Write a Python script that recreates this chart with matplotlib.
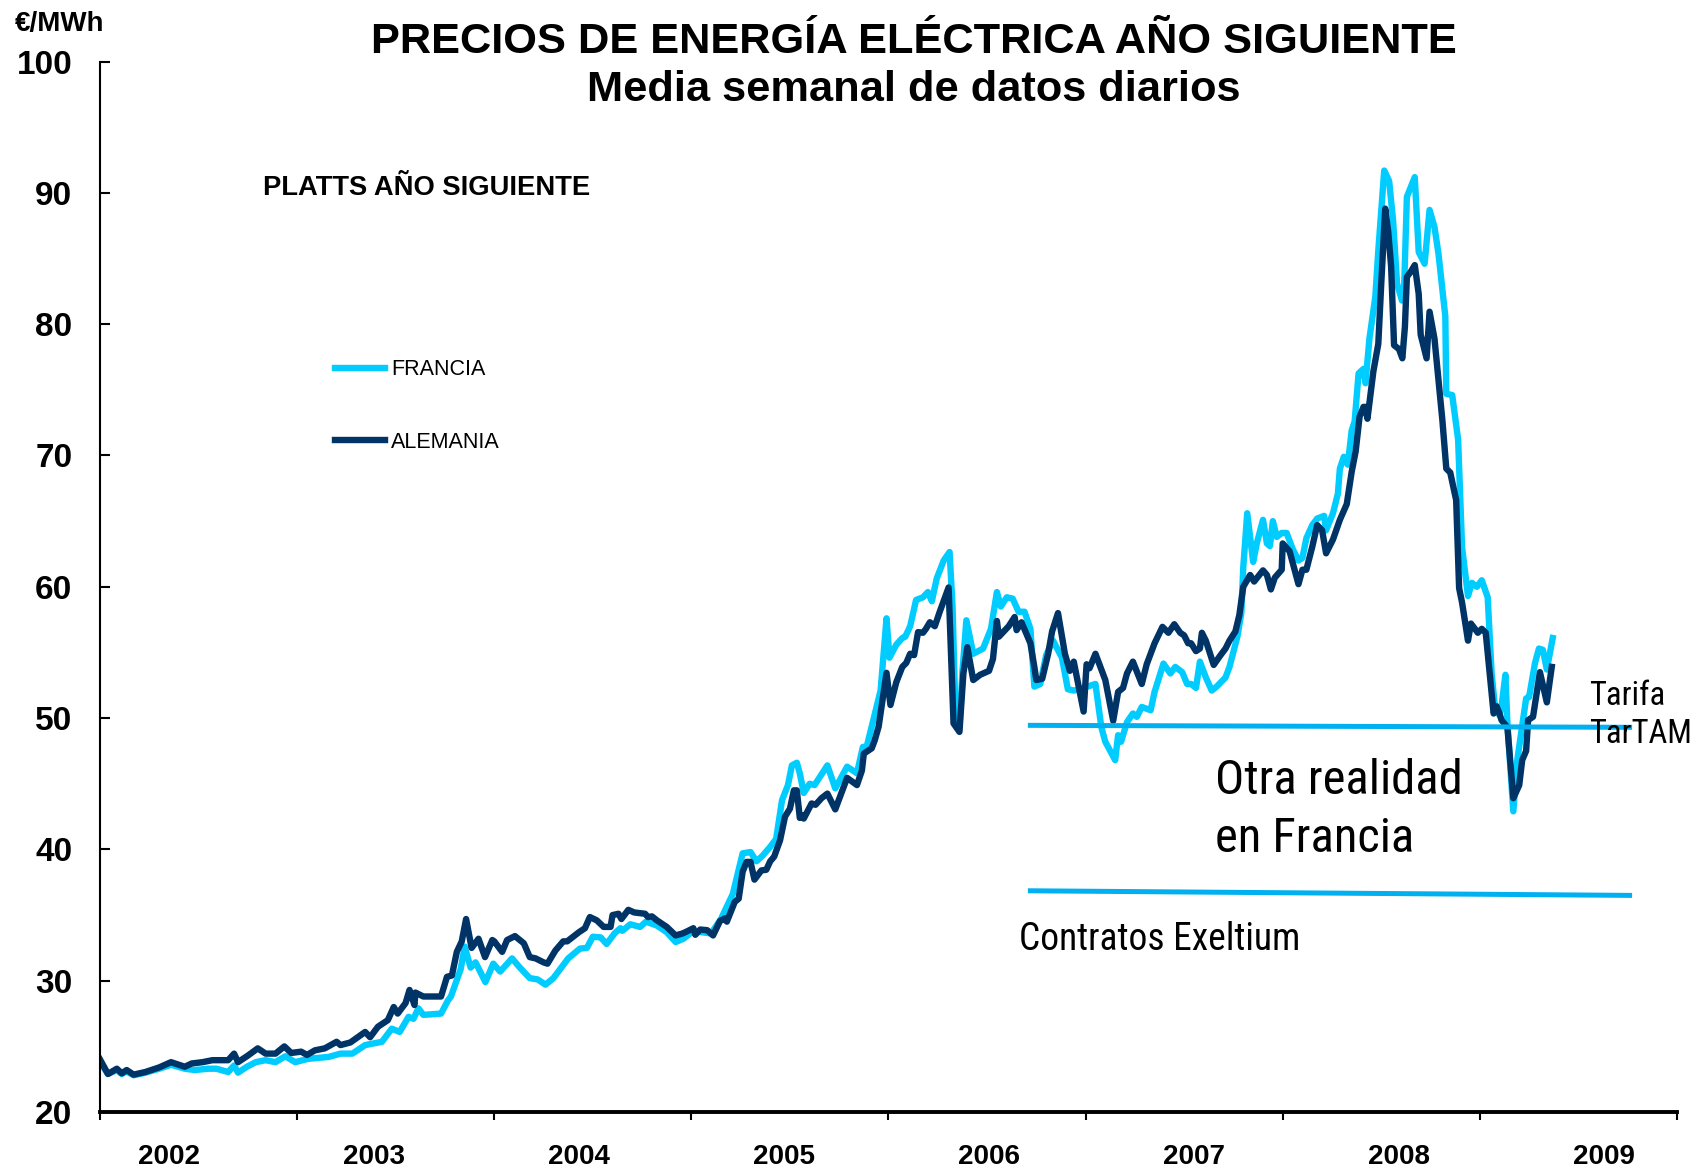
import matplotlib
matplotlib.use('Agg')
import matplotlib.pyplot as plt
from matplotlib import font_manager

# weekly-ish readings, decimal year -> EUR/MWh
de_t = [2002.00, 2002.04, 2002.085, 2002.11, 2002.135, 2002.17, 2002.23, 2002.30, 2002.36, 2002.43,
        2002.465, 2002.52, 2002.57, 2002.65, 2002.68, 2002.70, 2002.75, 2002.80, 2002.84, 2002.89,
        2002.935, 2002.97, 2003.02, 2003.05, 2003.09, 2003.14, 2003.20, 2003.22, 2003.27, 2003.345,
        2003.37, 2003.41, 2003.46, 2003.49, 2003.51, 2003.55, 2003.57, 2003.595, 2003.60, 2003.64,
        2003.73, 2003.76, 2003.785, 2003.81, 2003.835, 2003.857, 2003.885, 2003.92, 2003.953, 2003.99,
        2004.00, 2004.04, 2004.065, 2004.105, 2004.15, 2004.18, 2004.21, 2004.25, 2004.27, 2004.31,
        2004.35, 2004.37, 2004.43, 2004.46, 2004.485, 2004.52, 2004.555, 2004.59, 2004.60, 2004.63,
        2004.645, 2004.68, 2004.71, 2004.765, 2004.78, 2004.80, 2004.825, 2004.875, 2004.92, 2004.955,
        2004.97, 2005.01, 2005.02, 2005.045, 2005.08, 2005.11, 2005.145, 2005.17, 2005.18, 2005.22,
        2005.24, 2005.26, 2005.28, 2005.30, 2005.32, 2005.355, 2005.38, 2005.40, 2005.42, 2005.45,
        2005.475, 2005.50, 2005.52, 2005.535, 2005.55, 2005.56, 2005.57, 2005.61, 2005.63, 2005.66,
        2005.69, 2005.73, 2005.79, 2005.84, 2005.865, 2005.875, 2005.915, 2005.93, 2005.95, 2005.975,
        2005.99, 2006.01, 2006.04, 2006.07, 2006.09, 2006.11, 2006.13, 2006.15, 2006.175, 2006.19,
        2006.21, 2006.235, 2006.26, 2006.305, 2006.33, 2006.36, 2006.38, 2006.40, 2006.43, 2006.465,
        2006.51, 2006.53, 2006.55, 2006.56, 2006.61, 2006.64, 2006.65, 2006.675, 2006.72, 2006.74,
        2006.75, 2006.78, 2006.81, 2006.83, 2006.86, 2006.895, 2006.92, 2006.94, 2006.99, 2007.005,
        2007.02, 2007.05, 2007.10, 2007.14, 2007.165, 2007.19, 2007.21, 2007.24, 2007.285, 2007.31,
        2007.35, 2007.39, 2007.42, 2007.45, 2007.48, 2007.50, 2007.52, 2007.535, 2007.56, 2007.58,
        2007.59, 2007.61, 2007.65, 2007.68, 2007.71, 2007.73, 2007.76, 2007.78, 2007.80, 2007.835,
        2007.855, 2007.90, 2007.92, 2007.94, 2007.96, 2007.995, 2008.00, 2008.035, 2008.08, 2008.10,
        2008.12, 2008.15, 2008.175, 2008.20, 2008.22, 2008.255, 2008.29, 2008.325, 2008.35, 2008.37,
        2008.39, 2008.41, 2008.42, 2008.43, 2008.46, 2008.485, 2008.50, 2008.52, 2008.535, 2008.55,
        2008.565, 2008.59, 2008.607, 2008.62, 2008.63, 2008.65, 2008.67, 2008.69, 2008.70, 2008.73,
        2008.745, 2008.77, 2008.81, 2008.83, 2008.85, 2008.88, 2008.895, 2008.91, 2008.94, 2008.955,
        2008.99, 2009.01, 2009.03, 2009.05, 2009.07, 2009.085, 2009.10, 2009.11, 2009.14, 2009.17,
        2009.20, 2009.215, 2009.235, 2009.245, 2009.27, 2009.305, 2009.34, 2009.365]
de_v = [24.0, 22.9, 23.3, 22.95, 23.2, 22.85, 23.05, 23.4, 23.8, 23.45,
        23.7, 23.8, 23.95, 23.95, 24.45, 23.8, 24.3, 24.85, 24.45, 24.45,
        25.0, 24.5, 24.6, 24.35, 24.7, 24.85, 25.35, 25.1, 25.3, 26.1,
        25.7, 26.5, 27.0, 28.0, 27.5, 28.3, 29.3, 28.15, 29.1, 28.8,
        28.8, 30.3, 30.4, 32.2, 33.0, 34.7, 32.5, 33.2, 31.8, 33.1,
        33.0, 32.2, 33.1, 33.4, 32.85, 31.8, 31.7, 31.4, 31.3, 32.3,
        33.0, 33.0, 33.7, 34.0, 34.85, 34.6, 34.1, 34.1, 35.0, 35.1,
        34.7, 35.4, 35.2, 35.1, 34.85, 34.9, 34.6, 34.1, 33.45, 33.6,
        33.7, 34.0, 33.5, 33.9, 33.85, 33.45, 34.55, 34.75, 34.5, 36.0,
        36.25, 38.3, 39.05, 39.05, 37.7, 38.4, 38.45, 39.1, 39.45, 40.7,
        42.5, 43.1, 44.5, 44.5, 42.4, 42.6, 42.35, 43.5, 43.4, 43.9,
        44.25, 43.05, 45.45, 44.9, 46.0, 47.3, 47.7, 48.3, 49.35, 51.9,
        53.45, 51.0, 52.75, 53.9, 54.2, 54.9, 54.8, 56.55, 56.5, 56.8,
        57.3, 57.0, 58.1, 59.95, 49.6, 48.95, 53.4, 55.4, 52.9, 53.3,
        53.6, 54.5, 57.4, 56.2, 57.0, 57.7, 56.7, 57.3, 55.7, 53.9,
        52.9, 53.0, 54.9, 56.6, 58.0, 54.9, 53.6, 54.3, 50.5, 54.1,
        53.8, 54.9, 52.9, 49.8, 52.0, 52.3, 53.4, 54.3, 52.6, 54.1,
        55.7, 56.95, 56.5, 57.15, 56.5, 56.3, 55.7, 55.7, 55.1, 55.3,
        56.5, 55.9, 54.05, 54.7, 55.3, 55.9, 56.6, 57.85, 60.0, 60.9,
        60.4, 61.25, 60.9, 59.8, 60.7, 61.3, 63.3, 62.7, 60.2, 61.3,
        61.3, 63.05, 64.7, 64.3, 62.55, 63.6, 65.1, 66.3, 68.76, 70.3,
        72.95, 73.7, 73.7, 72.8, 76.4, 78.5, 83.1, 88.8, 87.1, 84.4,
        78.4, 78.1, 77.4, 79.8, 83.6, 84.0, 84.5, 82.3, 79.2, 77.4,
        80.95, 78.9, 72.7, 69.0, 68.7, 66.6, 59.9, 58.8, 55.9, 57.2,
        56.5, 56.8, 56.5, 53.4, 50.35, 50.9, 50.35, 49.85, 49.3, 43.9,
        44.9, 46.8, 47.5, 49.85, 50.1, 53.5, 51.2, 53.9]

fr_t = [2002.00, 2002.04, 2002.085, 2002.11, 2002.135, 2002.17, 2002.23, 2002.30, 2002.36, 2002.43,
        2002.48, 2002.55, 2002.59, 2002.65, 2002.68, 2002.70, 2002.745, 2002.79, 2002.84, 2002.89,
        2002.94, 2002.99, 2003.055, 2003.16, 2003.22, 2003.28, 2003.345, 2003.43, 2003.48, 2003.52,
        2003.565, 2003.59, 2003.615, 2003.64, 2003.73, 2003.765, 2003.78, 2003.83, 2003.85, 2003.88,
        2003.905, 2003.955, 2003.995, 2004.03, 2004.09, 2004.13, 2004.18, 2004.22, 2004.26, 2004.30,
        2004.34, 2004.375, 2004.435, 2004.47, 2004.50, 2004.54, 2004.57, 2004.61, 2004.64, 2004.65,
        2004.69, 2004.74, 2004.77, 2004.825, 2004.875, 2004.92, 2004.96, 2005.01, 2005.05, 2005.10,
        2005.15, 2005.21, 2005.26, 2005.30, 2005.33, 2005.36, 2005.40, 2005.43, 2005.46, 2005.49,
        2005.51, 2005.535, 2005.55, 2005.57, 2005.60, 2005.625, 2005.69, 2005.73, 2005.79, 2005.84,
        2005.87, 2005.89, 2005.96, 2005.99, 2006.005, 2006.04, 2006.07, 2006.085, 2006.11, 2006.14,
        2006.175, 2006.20, 2006.22, 2006.245, 2006.28, 2006.31, 2006.325, 2006.34, 2006.36, 2006.375,
        2006.395, 2006.43, 2006.48, 2006.52, 2006.55, 2006.57, 2006.60, 2006.63, 2006.66, 2006.69,
        2006.72, 2006.74, 2006.77, 2006.80, 2006.835, 2006.88, 2006.91, 2006.94, 2006.97, 2007.05,
        2007.08, 2007.10, 2007.15, 2007.165, 2007.18, 2007.21, 2007.24, 2007.26, 2007.285, 2007.33,
        2007.35, 2007.395, 2007.43, 2007.455, 2007.49, 2007.515, 2007.535, 2007.56, 2007.58, 2007.61,
        2007.64, 2007.665, 2007.71, 2007.73, 2007.77, 2007.79, 2007.80, 2007.82, 2007.85, 2007.87,
        2007.90, 2007.92, 2007.935, 2007.95, 2007.97, 2007.995, 2008.02, 2008.05, 2008.08, 2008.10,
        2008.12, 2008.15, 2008.175, 2008.21, 2008.22, 2008.255, 2008.28, 2008.29, 2008.31, 2008.33,
        2008.35, 2008.365, 2008.385, 2008.41, 2008.42, 2008.44, 2008.47, 2008.485, 2008.515, 2008.54,
        2008.56, 2008.58, 2008.605, 2008.615, 2008.63, 2008.67, 2008.69, 2008.72, 2008.745, 2008.77,
        2008.79, 2008.825, 2008.83, 2008.86, 2008.89, 2008.91, 2008.93, 2008.94, 2008.96, 2008.985,
        2009.01, 2009.04, 2009.06, 2009.075, 2009.10, 2009.11, 2009.13, 2009.14, 2009.17, 2009.19,
        2009.21, 2009.235, 2009.25, 2009.28, 2009.30, 2009.32, 2009.34, 2009.37]
fr_v = [23.8, 22.9, 23.2, 22.9, 23.1, 22.8, 23.0, 23.3, 23.6, 23.3,
        23.2, 23.3, 23.3, 23.05, 23.55, 23.0, 23.45, 23.8, 23.95, 23.8,
        24.25, 23.8, 24.05, 24.2, 24.45, 24.45, 25.1, 25.35, 26.35, 26.1,
        27.25, 27.1, 27.9, 27.4, 27.5, 28.5, 28.8, 30.9, 32.6, 31.0,
        31.4, 29.9, 31.3, 30.7, 31.7, 31.0, 30.2, 30.1, 29.7, 30.2,
        31.0, 31.7, 32.45, 32.5, 33.35, 33.3, 32.8, 33.6, 34.0, 33.8,
        34.3, 34.1, 34.5, 34.2, 33.7, 32.95, 33.2, 33.8, 33.7, 33.6,
        34.7, 36.6, 39.7, 39.8, 39.1, 39.5, 40.2, 40.8, 43.75, 44.9,
        46.4, 46.6, 45.8, 44.3, 45.0, 44.9, 46.4, 44.65, 46.3, 45.8,
        47.8, 47.85, 52.1, 57.6, 54.6, 55.6, 56.1, 56.2, 57.0, 59.0,
        59.2, 59.6, 58.9, 60.65, 62.0, 62.65, 58.5, 50.1, 49.3, 53.5,
        57.45, 54.9, 55.3, 56.8, 59.6, 58.5, 59.2, 59.1, 58.1, 58.1,
        56.8, 52.4, 52.6, 54.8, 55.9, 54.6, 52.2, 52.1, 52.2, 52.6,
        49.3, 48.2, 46.8, 48.7, 48.2, 49.7, 50.35, 50.1, 50.85, 50.6,
        52.0, 54.15, 53.4, 53.9, 53.5, 52.6, 52.6, 52.3, 54.3, 53.1,
        52.1, 52.4, 53.1, 53.9, 56.2, 58.0, 61.5, 65.6, 61.9, 63.4,
        65.1, 63.3, 63.1, 65.0, 63.8, 64.1, 64.1, 62.9, 62.0, 62.2,
        63.7, 64.7, 65.2, 65.4, 64.3, 65.6, 67.1, 69.0, 69.9, 69.3,
        71.9, 72.6, 76.25, 76.6, 75.5, 78.9, 82.1, 85.6, 91.7, 90.9,
        87.9, 83.1, 81.8, 82.3, 89.7, 91.2, 85.5, 84.6, 88.7, 87.4,
        85.4, 80.6, 74.7, 74.6, 71.2, 63.0, 60.5, 59.3, 60.3, 60.0,
        60.5, 59.2, 53.4, 51.1, 50.2, 50.9, 53.3, 49.6, 42.9, 46.8,
        48.9, 51.5, 51.6, 54.2, 55.3, 55.2, 53.7, 56.1]

# reference levels drawn across the right part
tartam_t = [2006.72, 2009.76]
tartam_v = [49.45, 49.3]
exeltium_t = [2006.72, 2009.76]
exeltium_v = [36.85, 36.5]

years = ['2002', '2003', '2004', '2005', '2006', '2007', '2008', '2009']
year_label_pos = [2002.35, 2003.39, 2004.43, 2005.47, 2006.51, 2007.55, 2008.59, 2009.63]
year_ticks = [2002, 2003, 2004, 2005, 2006, 2007, 2008, 2009, 2010]
y_ticks = [20, 30, 40, 50, 60, 70, 80, 90, 100]

light = '#00CCFF'
dark = '#003366'
ref_col = '#00B0F0'

plt.rcParams['font.family'] = ['Liberation Sans', 'DejaVu Sans']

# condensed face for the hand-written notes, if one is around
narrow = ['Liberation Sans Narrow', 'Noto Sans Condensed', 'DejaVu Sans Condensed',
          'Roboto Condensed', 'Liberation Sans']
found = font_manager.findfont(font_manager.FontProperties(family=narrow, stretch='condensed'))
is_narrow = ('Narrow' in found) or ('Condensed' in found)
big_fs = 35 if is_narrow else 30
ex_fs = 27 if is_narrow else 24
tar_fs = 23.5 if is_narrow else 22

fig = plt.figure(figsize=(16.93, 11.68), dpi=100)
ax = fig.add_axes([0.0591, 0.0479, 0.9314, 0.8994])

ax.plot(fr_t, fr_v, color=light, lw=4.6, label='FRANCIA', solid_joinstyle='round')
ax.plot(de_t, de_v, color=dark, lw=4.6, label='ALEMANIA', solid_joinstyle='round')
ax.plot(tartam_t, tartam_v, color=ref_col, lw=3.6)
ax.plot(exeltium_t, exeltium_v, color=ref_col, lw=3.6)

ax.set_xlim(2002, 2010)
ax.set_ylim(20, 100)

ax.spines['top'].set_visible(False)
ax.spines['right'].set_visible(False)
ax.spines['left'].set_linewidth(1.5)
ax.spines['bottom'].set_linewidth(2.8)

ax.set_yticks(y_ticks)
ax.set_yticklabels([str(v) for v in y_ticks], fontsize=24, fontweight='bold')
ax.tick_params(axis='y', direction='in', length=7, width=1.5, pad=20)

ax.set_xticks(year_ticks)
ax.set_xticklabels([])
ax.tick_params(axis='x', which='major', direction='out', length=6, width=1.5)
ax.set_xticks(year_label_pos, minor=True)
ax.set_xticklabels(years, minor=True, fontsize=20, fontweight='bold')
ax.tick_params(axis='x', which='minor', length=0, pad=23)

leg = ax.legend(loc='center left', bbox_to_anchor=(0.149, 0.672), frameon=False,
                fontsize=15.5, handlelength=2.3, handletextpad=0.3, labelspacing=2.4,
                borderpad=0, borderaxespad=0)

fig.text(0.540, 0.964, 'PRECIOS DE ENERGÍA ELÉCTRICA AÑO SIGUIENTE', ha='center', va='center',
         fontsize=31.2, fontweight='bold')
fig.text(0.540, 0.923, 'Media semanal de datos diarios', ha='center', va='center',
         fontsize=31.2, fontweight='bold')
fig.text(0.009, 0.9796, '€/MWh', ha='left', va='center', fontsize=20, fontweight='bold')
ax.text(2002.827, 90.35, 'PLATTS AÑO SIGUIENTE', ha='left', va='center', fontsize=19.7,
        fontweight='bold')

note = dict(ha='left', va='center', family=narrow, fontstretch='condensed')
ax.text(2009.555, 51.65, 'Tarifa', fontsize=tar_fs, **note)
ax.text(2009.555, 48.77, 'TarTAM', fontsize=tar_fs, **note)
ax.text(2007.657, 45.24, 'Otra realidad', fontsize=big_fs, **note)
ax.text(2007.657, 40.8, 'en Francia', fontsize=big_fs, **note)
ax.text(2006.663, 33.16, 'Contratos Exeltium', fontsize=ex_fs, **note)

fig.savefig('out.png', dpi=100)
